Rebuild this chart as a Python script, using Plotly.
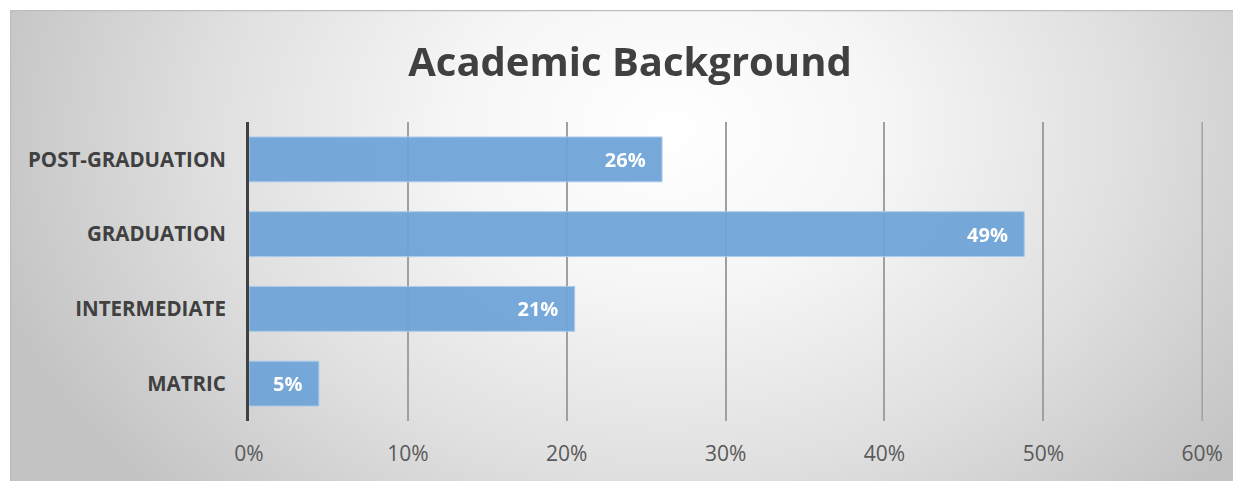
import base64
import plotly.graph_objects as go

categories = ["MATRIC", "INTERMEDIATE", "GRADUATION", "POST-GRADUATION"]
values = [4.4, 20.5, 48.8, 26.0]
labels = ["5%", "21%", "49%", "26%"]
tick_vals = [0, 10, 20, 30, 40, 50, 60]
tick_text = ["0%", "10%", "20%", "30%", "40%", "50%", "60%"]

OFF = 8  # page body margin
W, H = 1241 + OFF, 481 + OFF
L, T = 249 - OFF, 122 - OFF
R = W - (1203 - OFF)
B = H - (421 - OFF)
pw, ph = W - L - R, H - T - B

IW, IH = 1241, 481
svg = f'''<svg xmlns="http://www.w3.org/2000/svg" width="{IW}" height="{IH}" viewBox="0 0 {IW} {IH}" preserveAspectRatio="none">
<defs><radialGradient id="g" gradientUnits="userSpaceOnUse" cx="660" cy="120" r="700" gradientTransform="translate(660 120) scale(1 0.75) translate(-660 -120)">
<stop offset="0" stop-color="#ffffff"/><stop offset="0.3" stop-color="#f6f6f6"/><stop offset="0.65" stop-color="#e0e0e0"/><stop offset="1" stop-color="#c4c4c4"/></radialGradient></defs>
<rect x="0" y="0" width="{IW}" height="{IH}" fill="url(#g)"/>
<line x1="0" y1="0.5" x2="{IW}" y2="0.5" stroke="#bdbdbd" stroke-width="1.5"/>
<line x1="0.5" y1="0" x2="0.5" y2="{IH}" stroke="#bdbdbd" stroke-width="1.5"/>
</svg>'''
src = "data:image/svg+xml;base64," + base64.b64encode(svg.encode()).decode()

bx, by = 10 - OFF, 10 - OFF  # frame top-left in figure px

fig = go.Figure(go.Bar(
    y=categories, x=values, orientation="h",
    text=labels, texttemplate="%{text}\u2002\u2009",
    textposition="inside", insidetextanchor="end",
    textfont=dict(family="Open Sans", size=20, color="white", weight="bold"),
    marker=dict(color="#6fa5d8", line=dict(color="#a9c9ea", width=1)),
    opacity=0.95, width=0.6, hoverinfo="skip",
))

fig.update_layout(
    width=W, height=H,
    margin=dict(l=L, r=R, t=T, b=B),
    paper_bgcolor="white", plot_bgcolor="rgba(0,0,0,0)",
    showlegend=False,
    title=dict(text="<b>Academic Background</b>", x=(630 - OFF) / W, xanchor="center",
               y=1 - (62 - OFF) / H, yanchor="middle",
               font=dict(family="Open Sans", size=40, color="#404040")),
    images=[dict(source=src, xref="paper", yref="paper",
                 x=(bx - L) / pw, y=(H - B - by) / ph,
                 sizex=IW / pw, sizey=IH / ph,
                 sizing="stretch", xanchor="left", yanchor="top", layer="below")],
    shapes=[dict(type="line", xref="x", yref="paper", x0=60, x1=60, y0=0, y1=1,
                 line=dict(color="#a0a0a0", width=1.5), layer="below")],
    xaxis=dict(range=[0, 60.05], tickvals=tick_vals, ticktext=tick_text,
               showgrid=True, gridcolor="#a0a0a0", gridwidth=1.5,
               zeroline=False, showline=False, ticks="",
               ticklabelstandoff=18,
               tickfont=dict(family="Open Sans", size=21, color="#595959")),
    yaxis=dict(categoryorder="array", categoryarray=categories,
               showline=True, linecolor="#404040", linewidth=3,
               showgrid=False, ticks="", ticklabelstandoff=16,
               tickfont=dict(family="Open Sans", size=20.5, color="#404040", weight="bold")),
    bargap=0.4,
)

fig.write_html("out.html")
